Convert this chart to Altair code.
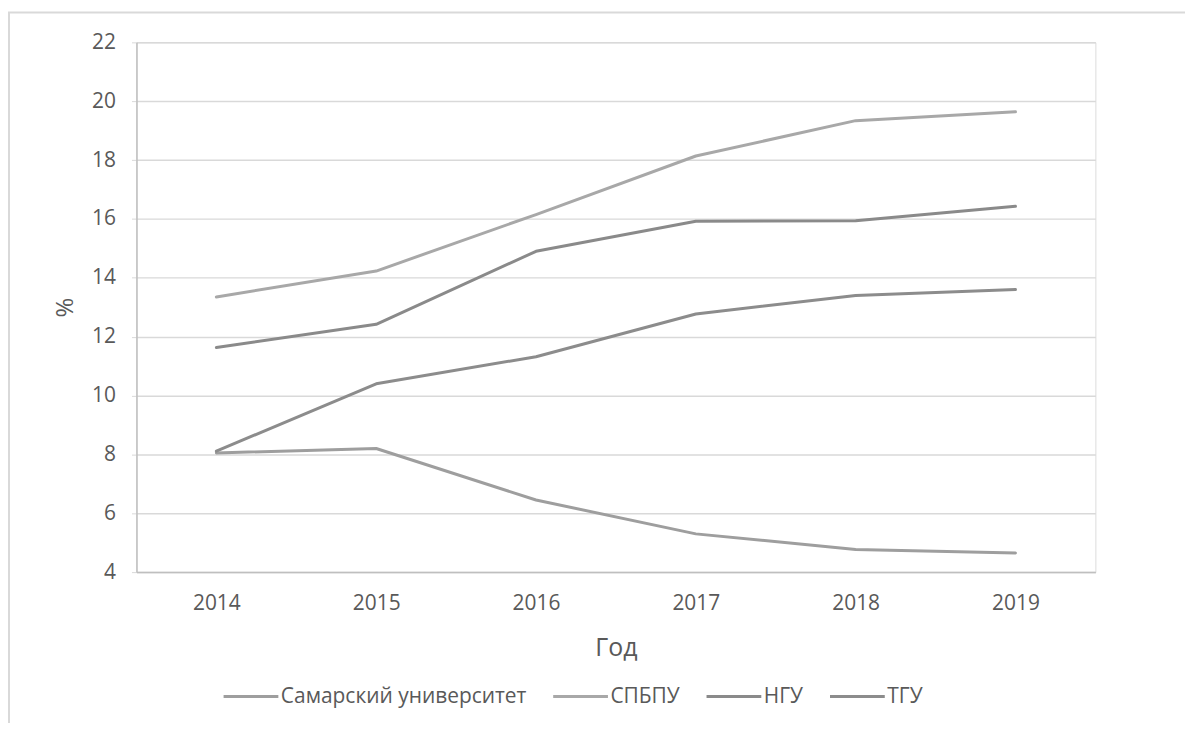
import altair as alt
import pandas as pd

years = ["2014", "2015", "2016", "2017", "2018", "2019"]
series_names = ["Самарский университет", "СПБПУ", "НГУ", "ТГУ"]
samara = [8.05, 8.2, 6.45, 5.3, 4.77, 4.65]
spbpu = [13.35, 14.23, 16.15, 18.14, 19.34, 19.64]
ngu = [11.63, 12.42, 14.9, 15.92, 15.94, 16.43]
tgu = [8.11, 10.4, 11.32, 12.77, 13.4, 13.6]
colors = ["#9e9e9e", "#a8a8a8", "#8a8a8a", "#8c8c8c"]
y_ticks = [4, 6, 8, 10, 12, 14, 16, 18, 20, 22]

rows = []
for name, vals in zip(series_names, [samara, spbpu, ngu, tgu]):
    for yr, v in zip(years, vals):
        rows.append({"Год": yr, "value": v, "series": name})
df = pd.DataFrame(rows)

W, H = 963, 532
FONT = "Open Sans"
TXT = "#595959"

frame = alt.Chart(pd.DataFrame({"a": [0]})).mark_rect(
    fill=None, stroke="#d9d9d9", strokeWidth=2, clip=False
).encode(
    x=alt.value(-128), x2=alt.value(W + 300),
    y=alt.value(-30), y2=alt.value(H + 400)
)

lines = alt.Chart(df).mark_line(strokeWidth=3, strokeCap="round", strokeJoin="round").encode(
    x=alt.X("Год:O", sort=years,
            scale=alt.Scale(type="point", padding=0.5),
            axis=alt.Axis(title="Год", labelAngle=0, domainColor="#bfbfbf", domainWidth=1.5,
                          ticks=False, grid=False, labelPadding=21,
                          labelFontSize=21, labelColor=TXT, titleFontSize=25,
                          titleColor=TXT, titleFontWeight="normal", titleY=76,
                          titleBaseline="middle")),
    y=alt.Y("value:Q", scale=alt.Scale(domain=[4, 22], nice=False, zero=False),
            axis=alt.Axis(title="%", values=y_ticks, domainColor="#bfbfbf", domainWidth=1.5,
                          tickColor="#d9d9d9", tickSize=5, gridColor="#d9d9d9", gridWidth=1.5,
                          labelPadding=16, labelFontSize=21, labelColor=TXT,
                          titleFontSize=24, titleColor=TXT, titleFontWeight="normal",
                          titleAngle=-90, titleX=-71, titleY=H / 2,
                          titleBaseline="middle")),
    color=alt.Color("series:N", sort=series_names,
                    scale=alt.Scale(domain=series_names, range=colors),
                    legend=alt.Legend(title=None, orient="none", direction="horizontal",
                                      legendX=86, legendY=628, symbolType="stroke",
                                      symbolSize=3025, symbolStrokeWidth=3,
                                      labelFontSize=21, labelColor=TXT, labelOffset=1,
                                      columnPadding=20, labelLimit=400))
)

chart = alt.layer(frame, lines).properties(
    width=W, height=H,
    autosize=alt.AutoSizeParams(type="none"),
    padding={"left": 129, "top": 33, "right": 90, "bottom": 150},
).configure_view(stroke=None).configure(font=FONT, background="white")

chart.save("out.html", embed_options={"renderer": "svg", "actions": False})
